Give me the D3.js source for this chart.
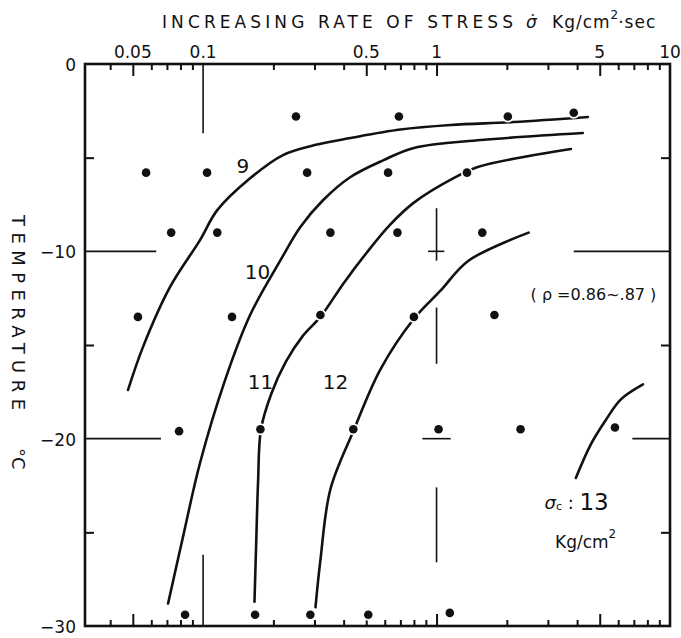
<!DOCTYPE html>
<html>
<head>
<meta charset="utf-8">
<script src="https://cdn.jsdelivr.net/npm/d3@7"></script>
<style>
  body { margin: 0; background: #fff; }
  svg text { font-family: "DejaVu Sans", sans-serif; fill: #111; }
</style>
</head>
<body>
<svg width="681" height="638"></svg>
<script>
// data points: rate of stress (Kg/cm2 sec) vs temperature (C)
var dotRate = [0.25, 0.69, 2.02, 3.87,
               0.057, 0.104, 0.279, 0.62, 1.35,
               0.073, 0.115, 0.351, 0.68, 1.57,
               0.0526, 0.133, 0.318, 0.80, 1.77,
               0.0789, 0.176, 0.44, 1.02, 2.29, 5.81,
               0.0837, 0.167, 0.288, 0.51, 1.14];
var dotTemp = [-2.8, -2.8, -2.8, -2.6,
               -5.8, -5.8, -5.8, -5.8, -5.8,
               -9.0, -9.0, -9.0, -9.0, -9.0,
               -13.5, -13.5, -13.4, -13.5, -13.4,
               -19.6, -19.5, -19.5, -19.5, -19.5, -19.4,
               -29.4, -29.4, -29.4, -29.4, -29.3];

// strength contours (sigma_c = 9 .. 13 Kg/cm2)
var curve9  = [[0.0477, -17.4], [0.0553, -15.1], [0.0722, -11.9], [0.097, -9.4], [0.115, -7.8],
               [0.159, -6.1], [0.220, -4.86], [0.308, -4.3], [0.428, -3.95], [0.70, -3.5],
               [1.15, -3.26], [2.14, -3.1], [4.45, -2.83]];
var curve10 = [[0.0708, -28.8], [0.082, -25.25], [0.097, -21.3], [0.124, -16.9], [0.159, -13.4],
               [0.214, -10.5], [0.261, -8.7], [0.327, -7.26], [0.428, -6.03], [0.593, -5.13],
               [0.80, -4.48], [1.55, -4.06], [4.23, -3.68]];
var curve11 = [[0.166, -28.7], [0.169, -25.4], [0.172, -22.3], [0.177, -19.5], [0.196, -17.6],
               [0.226, -15.9], [0.268, -14.5], [0.318, -13.5], [0.40, -11.7], [0.50, -10.1],
               [0.63, -8.6], [0.80, -7.4], [1.21, -6.03], [1.50, -5.5], [3.76, -4.54]];
var curve12 = [[0.303, -29.0], [0.318, -26.5], [0.351, -22.7], [0.44, -19.6], [0.575, -16.3],
               [0.80, -13.6], [1.04, -12.1], [1.37, -10.5], [2.48, -9.0]];
var curve13 = [[3.95, -22.1], [4.58, -20.3], [5.31, -19.0], [6.16, -17.9], [7.66, -17.1]];
var curves = [curve9, curve10, curve11, curve12, curve13];

var curveNames = ["9", "10", "11", "12"];
var curveNameRate = [0.148, 0.171, 0.176, 0.369];
var curveNameTemp = [-5.45, -11.1, -17.0, -17.0];

var tickLabels = ["0.05", "0.1", "0.5", "1", "5", "10"];
var tickLabelValues = [0.05, 0.1, 0.5, 1, 5, 10];
var majorTicks = [0.05, 0.5, 1, 5];
var minorTicks = [0.04, 0.06, 0.07, 0.08, 0.09, 0.2, 0.3, 0.4, 0.6, 0.7, 0.8, 0.9,
                  2, 3, 4, 6, 7, 8, 9];
var tempLabels = ["0", "\u221210", "\u221220", "\u221230"];
var tempLabelValues = [0, -10, -20, -30];

var svg = d3.select("svg"),
    mLeft = 85, mRight = 670, mTop = 64, mBottom = 626;

var x = d3.scaleLog().domain([0.0312, 10]).range([mLeft, mRight]);
var y = d3.scaleLinear().domain([0, -30]).range([mTop, mBottom]);

var ink = "#111";

// ticks on top and bottom (pointing inward)
function ticks(axisFn, vals, size, ypos) {
  svg.append("g")
    .attr("transform", "translate(0," + ypos + ")")
    .call(axisFn(x).tickValues(vals).tickSize(-size).tickFormat(""))
    .call(function(g) { g.select(".domain").remove(); })
    .selectAll("line").attr("stroke", ink).attr("stroke-width", 2);
}
ticks(d3.axisTop, minorTicks, 6, mTop);
ticks(d3.axisTop, majorTicks, 12, mTop);
ticks(d3.axisBottom, minorTicks, 6, mBottom);
ticks(d3.axisBottom, majorTicks, 12, mBottom);

// left / right ticks
svg.append("g").attr("transform", "translate(" + mLeft + ",0)")
  .call(d3.axisLeft(y).tickValues([-5, -15, -25]).tickSize(-9).tickFormat(""))
  .call(function(g) { g.select(".domain").remove(); })
  .selectAll("line").attr("stroke", ink).attr("stroke-width", 2);
svg.append("g").attr("transform", "translate(" + mRight + ",0)")
  .call(d3.axisRight(y).tickValues([-5, -15, -25]).tickSize(-9).tickFormat(""))
  .call(function(g) { g.select(".domain").remove(); })
  .selectAll("line").attr("stroke", ink).attr("stroke-width", 2);

// reference cross-lines inside the frame
var gridSegs = [
  [[0.0312, -10], [0.063, -10]], [[0.0312, -20], [0.066, -20]],
  [[3.87, -10], [10, -10]], [[6.9, -20], [10, -20]],
  [[0.1, 0], [0.1, -3.7]], [[0.1, -26.2], [0.1, -30]],
  [[1, -7.7], [1, -10.5]], [[0.92, -10], [1.08, -10]],
  [[1, -13.0], [1, -16.0]], [[0.87, -20], [1.15, -20]],
  [[1, -22.6], [1, -26.6]]
];
svg.append("g").selectAll("line").data(gridSegs).enter().append("line")
  .attr("x1", function(d) { return x(d[0][0]); })
  .attr("y1", function(d) { return y(d[0][1]); })
  .attr("x2", function(d) { return x(d[1][0]); })
  .attr("y2", function(d) { return y(d[1][1]); })
  .attr("stroke", ink).attr("stroke-width", 1.6);

// frame
svg.append("rect")
  .attr("x", mLeft).attr("y", mTop)
  .attr("width", mRight - mLeft).attr("height", mBottom - mTop)
  .attr("fill", "none").attr("stroke", ink).attr("stroke-width", 2.6);

// contour curves
var line = d3.line()
  .x(function(d) { return x(d[0]); })
  .y(function(d) { return y(d[1]); })
  .curve(d3.curveCatmullRom.alpha(0.5));

svg.append("g").selectAll("path").data(curves).enter().append("path")
  .attr("d", line)
  .attr("fill", "none").attr("stroke", ink).attr("stroke-width", 2.6)
  .attr("stroke-linecap", "round");

// dots (white ring breaks the curves where they cross)
svg.append("g").selectAll("circle").data(dotRate).enter().append("circle")
  .attr("cx", function(d) { return x(d); })
  .attr("cy", function(d, i) { return y(dotTemp[i]); })
  .attr("r", 4.3)
  .attr("fill", ink).attr("stroke", "#fff").attr("stroke-width", 3.5)
  .attr("paint-order", "stroke");

// curve names
svg.append("g").selectAll("text").data(curveNames).enter().append("text")
  .attr("x", function(d, i) { return x(curveNameRate[i]); })
  .attr("y", function(d, i) { return y(curveNameTemp[i]); })
  .attr("text-anchor", "middle").attr("dominant-baseline", "central")
  .style("font-size", "20px")
  .text(function(d) { return d; });

// sigma_c 13 label
var s13 = svg.append("text").attr("x", x(2.9)).attr("y", y(-23.4)).attr("dominant-baseline", "central");
s13.append("tspan").style("font-size", "18px").style("font-style", "italic").text("\u03c3");
s13.append("tspan").style("font-size", "11px").attr("dy", 4).text("c");
s13.append("tspan").style("font-size", "18px").attr("dy", -4).text(" : ");
s13.append("tspan").style("font-size", "23px").text("13");

var kg = svg.append("text").attr("x", x(4.35)).attr("y", y(-25.5)).attr("dominant-baseline", "central")
  .attr("text-anchor", "middle").style("font-size", "17px");
kg.append("tspan").text("Kg/cm");
kg.append("tspan").attr("dy", -8).style("font-size", "12px").text("2");

svg.append("text").attr("x", x(4.7)).attr("y", y(-12.3)).attr("dominant-baseline", "central")
  .attr("text-anchor", "middle").style("font-size", "16px")
  .text("( \u03c1 =0.86~.87 )");

// top tick labels
svg.append("g").selectAll("text").data(tickLabels).enter().append("text")
  .attr("x", function(d, i) { return x(tickLabelValues[i]); })
  .attr("y", 58)
  .attr("text-anchor", "middle").style("font-size", "17px")
  .text(function(d) { return d; });

// temperature labels
svg.append("g").selectAll("text").data(tempLabels).enter().append("text")
  .attr("x", 76)
  .attr("y", function(d, i) { return y(tempLabelValues[i]) + 7; })
  .attr("text-anchor", "end").style("font-size", "17px")
  .text(function(d) { return d; });

// title
svg.append("text").attr("x", 162).attr("y", 28)
  .attr("textLength", 351).attr("lengthAdjust", "spacing")
  .style("font-size", "17px")
  .text("INCREASING RATE OF STRESS");
var ttl = svg.append("text").attr("x", 526).attr("y", 28).style("font-size", "17px");
ttl.append("tspan").style("font-style", "italic").text("\u03c3\u0307");
ttl.append("tspan").attr("x", 552).style("letter-spacing", "1px").text("Kg/cm");
ttl.append("tspan").attr("dy", -9).style("font-size", "12px").text("2");
ttl.append("tspan").attr("dy", 9).style("letter-spacing", "1px").text("\u00b7sec");

// y title, rotated
svg.append("text")
  .attr("transform", "translate(12,215) rotate(90)")
  .attr("textLength", 195).attr("lengthAdjust", "spacing")
  .style("font-size", "18px")
  .text("TEMPERATURE");
svg.append("text")
  .attr("transform", "translate(12,448) rotate(90)")
  .style("font-size", "18px")
  .text("\u00b0C");
</script>
</body>
</html>
